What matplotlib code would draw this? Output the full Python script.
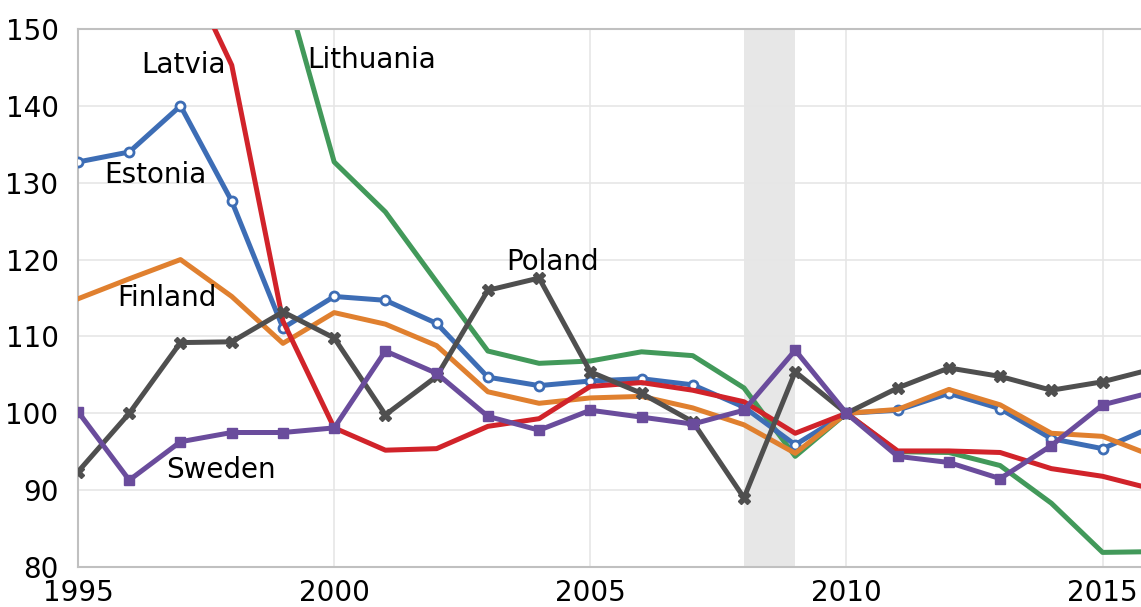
import matplotlib
matplotlib.use("Agg")
import matplotlib.pyplot as plt

# data (index)
years = list(range(1995, 2017))

estonia = [132.7, 134.0, 140.0, 127.6, 111.1, 115.2, 114.7, 111.7, 104.7, 103.6, 104.2,
           104.5, 103.7, 100.8, 95.9, 100.0, 100.4, 102.6, 100.6, 96.7, 95.4, 98.3]
finland = [114.9, 117.5, 120.0, 115.2, 109.1, 113.1, 111.6, 108.8, 102.8, 101.3, 102.0,
           102.2, 100.7, 98.5, 94.8, 100.0, 100.5, 103.1, 101.1, 97.4, 97.0, 94.4]
latvia = [200.0, 185.0, 159.4, 145.3, 112.0, 98.1, 95.2, 95.4, 98.3, 99.3, 103.5,
          104.0, 103.0, 101.5, 97.4, 100.0, 95.1, 95.1, 94.9, 92.8, 91.8, 90.1]
lithuania = [200.0, 190.0, 180.0, 170.0, 156.4, 132.7, 126.2, 117.1, 108.1, 106.5, 106.8,
             108.0, 107.5, 103.3, 94.4, 100.0, 95.0, 94.9, 93.2, 88.3, 81.9, 82.0]
poland = [92.4, 100.0, 109.2, 109.3, 113.2, 109.8, 99.8, 104.8, 116.0, 117.6, 105.4,
          102.6, 98.9, 89.0, 105.4, 100.0, 103.3, 105.9, 104.8, 103.0, 104.1, 105.8]
sweden = [100.2, 91.3, 96.3, 97.5, 97.5, 98.1, 108.1, 105.2, 99.6, 97.8, 100.4,
          99.5, 98.6, 100.4, 108.2, 100.0, 94.4, 93.6, 91.5, 95.8, 101.1, 102.8]

label_names = ["Latvia", "Lithuania", "Estonia", "Finland", "Poland", "Sweden"]
label_x = [1997.05, 1999.47, 1996.5, 1996.74, 2004.27, 1997.79]
label_y = [145.3, 146.0, 131.0, 115.0, 119.7, 92.6]
label_ha = ["center", "left", "center", "center", "center", "center"]

recession = (2008, 2009)

fig = plt.figure(figsize=(11.41, 6.07), dpi=100)
ax = fig.add_axes([0.0684, 0.0659, 0.9316, 0.8863])

ax.axvspan(recession[0], recession[1], color="#e7e7e7", zorder=0, lw=0)

lw = 3.6
ax.plot(years, lithuania, color="#42995a", lw=lw, zorder=2)
ax.plot(years, estonia, color="#3d6db5", lw=lw, marker="o", ms=6.5,
        mfc="white", mec="#3d6db5", mew=2, zorder=3)
ax.plot(years, finland, color="#e0802f", lw=lw, zorder=4)
ax.plot(years, latvia, color="#d1232a", lw=lw, zorder=5)
ax.plot(years, poland, color="#4f4f4f", lw=lw, marker="X", ms=8.5, zorder=6)
ax.plot(years, sweden, color="#6a4c9c", lw=lw, marker="s", ms=6.5, zorder=7)

for name, x, y, ha in zip(label_names, label_x, label_y, label_ha):
    ax.text(x, y, name, fontsize=20, ha=ha, va="center", color="black", zorder=8)

ax.set_xlim(1995, 2015.75)
ax.set_ylim(80, 150)
ax.set_xticks([1995, 2000, 2005, 2010, 2015])
ax.set_yticks(range(80, 151, 10))
ax.tick_params(axis="both", length=0, labelsize=20)
ax.tick_params(axis="y", pad=14)
ax.tick_params(axis="x", pad=9)

ax.grid(True, color="#e6e6e6", lw=1.2, zorder=1)
ax.set_axisbelow(True)
for s in ["left", "top", "bottom"]:
    ax.spines[s].set_color("#c0c0c0")
    ax.spines[s].set_linewidth(1.5)
ax.spines["right"].set_visible(False)

fig.savefig("out.png", dpi=100)
